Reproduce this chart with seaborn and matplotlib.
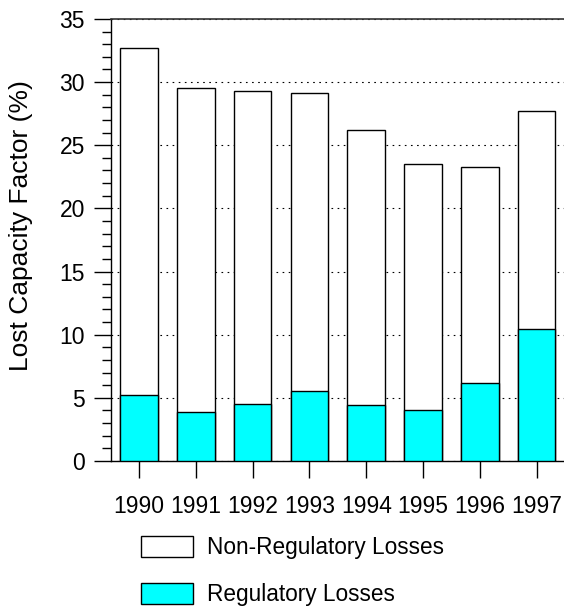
import matplotlib
matplotlib.use("Agg")
import matplotlib.pyplot as plt
from matplotlib.patches import Patch
from matplotlib.ticker import MultipleLocator
import seaborn as sns
import pandas as pd

years = ["1990", "1991", "1992", "1993", "1994", "1995", "1996", "1997"]
regulatory = [5.2, 3.9, 4.55, 5.55, 4.4, 4.0, 6.15, 10.45]
non_regulatory = [27.5, 25.6, 24.75, 23.6, 21.8, 19.5, 17.15, 17.25]
y_ticks = [0, 5, 10, 15, 20, 25, 30, 35]
series_labels = ["Non-Regulatory Losses", "Regulatory Losses"]
series_colors = ["#FFFFFF", "#00FFFF"]

total = [r + n for r, n in zip(regulatory, non_regulatory)]
df = pd.DataFrame({"year": years, "regulatory": regulatory, "total": total})

sns.set_theme(style="white")
plt.rcParams["font.family"] = ["Liberation Sans", "DejaVu Sans"]
plt.rcParams["text.color"] = "black"
plt.rcParams["axes.labelcolor"] = "black"
plt.rcParams["xtick.color"] = "black"
plt.rcParams["ytick.color"] = "black"

fig = plt.figure(figsize=(5.64, 6.09), dpi=100)
ax = fig.add_axes([0.196, 0.243, 0.806, 0.726])

sns.barplot(data=df, x="year", y="total", order=years, color=series_colors[0],
            saturation=1, width=0.66, edgecolor="black", linewidth=1.0, ax=ax, zorder=2)
sns.barplot(data=df, x="year", y="regulatory", order=years, color=series_colors[1],
            saturation=1, width=0.66, edgecolor="black", linewidth=1.0, ax=ax, zorder=3)

ax.set_xlim(-0.5, 7.5)
ax.set_ylim(0, 35)
ax.set_yticks(y_ticks)
ax.yaxis.set_minor_locator(MultipleLocator(1))
ax.set_xlabel("")
ax.set_ylabel("Lost Capacity Factor (%)", fontsize=19)
ax.yaxis.set_label_coords(-0.171, 0.532)

ax.tick_params(axis="y", which="major", direction="out", length=12.5, width=1.0,
               labelsize=16.5, labelcolor="black", color="black", left=True, pad=6)
ax.tick_params(axis="y", which="minor", direction="out", length=6.5, width=1.0,
               color="black", left=True)
ax.tick_params(axis="x", which="major", direction="out", length=12.5, width=1.0,
               labelsize=16.5, labelcolor="black", color="black", bottom=True, pad=12)

ax.yaxis.grid(True, which="major", color="black", linestyle=(0, (1.5, 4.0)), linewidth=0.8)
ax.set_axisbelow(True)

for side in ["left", "bottom"]:
    ax.spines[side].set_visible(True)
    ax.spines[side].set_color("black")
    ax.spines[side].set_linewidth(1.0)
ax.spines["right"].set_visible(False)
ax.spines["top"].set_visible(True)
ax.spines["top"].set_color("#333333")
ax.spines["top"].set_linestyle((0, (1, 1)))
ax.spines["top"].set_linewidth(1.2)

handles = [Patch(facecolor=c, edgecolor="black", linewidth=1.0) for c in series_colors]
fig.legend(handles, series_labels, loc="upper left", bbox_to_anchor=(0.25, 0.1204),
           frameon=False, fontsize=16.3, handlelength=2.3, handleheight=1.06,
           handletextpad=0.6, labelspacing=1.05, borderpad=0, borderaxespad=0)

fig.savefig("out.png", dpi=100)
